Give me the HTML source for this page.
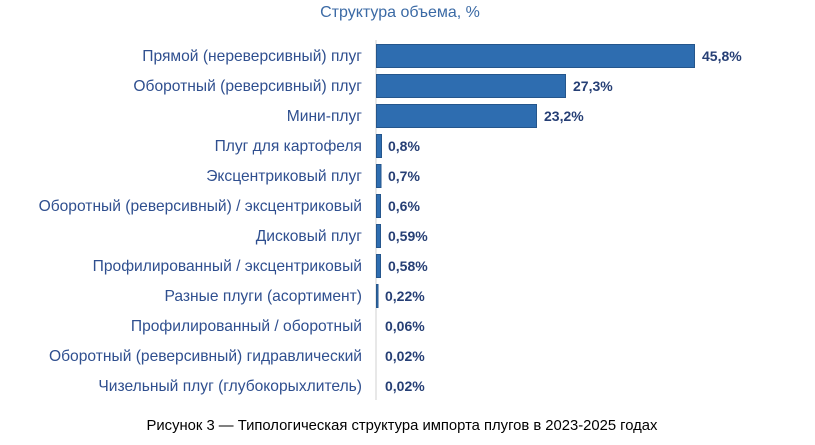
<!DOCTYPE html>
<html><head><meta charset="utf-8"><style>
body{margin:0;width:815px;height:440px;background:#fff;overflow:hidden}
</style></head><body>
<svg width="815" height="440" xmlns="http://www.w3.org/2000/svg" font-family="Liberation Sans, sans-serif">
<text x="400" y="17" text-anchor="middle" font-size="16" fill="#3b6aa5">Структура объема, %</text>
<line x1="376" y1="40" x2="376" y2="400" stroke="#d0d0d0" stroke-width="1"/>
<g font-size="15.6" fill="#2f4f8f" text-anchor="end">
<text x="362" y="61">Прямой (нереверсивный) плуг</text>
<text x="362" y="91">Оборотный (реверсивный) плуг</text>
<text x="362" y="121">Мини-плуг</text>
<text x="362" y="151">Плуг для картофеля</text>
<text x="362" y="181">Эксцентриковый плуг</text>
<text x="362" y="211">Оборотный (реверсивный) / эксцентриковый</text>
<text x="362" y="241">Дисковый плуг</text>
<text x="362" y="271">Профилированный / эксцентриковый</text>
<text x="362" y="301">Разные плуги (асортимент)</text>
<text x="362" y="331">Профилированный / оборотный</text>
<text x="362" y="361">Оборотный (реверсивный) гидравлический</text>
<text x="362" y="391">Чизельный плуг (глубокорыхлитель)</text>
</g>
<g fill="#2e6db0" stroke="#25568c" stroke-width="1">
<rect x="376.5" y="44.5" width="318" height="23"/>
<rect x="376.5" y="74.5" width="189" height="23"/>
<rect x="376.5" y="104.5" width="160" height="23"/>
<rect x="376.5" y="134.5" width="5" height="23"/>
<rect x="376.5" y="164.5" width="4.5" height="23"/>
<rect x="376.5" y="194.5" width="4" height="23"/>
<rect x="376.5" y="224.5" width="4" height="23"/>
<rect x="376.5" y="254.5" width="4" height="23"/>
<rect x="376.5" y="284.5" width="1.5" height="23"/>
</g>
<g font-size="14" font-weight="bold" fill="#263f75">
<text x="702" y="61">45,8%</text>
<text x="573" y="91">27,3%</text>
<text x="544" y="121">23,2%</text>
<text x="388" y="151">0,8%</text>
<text x="388" y="181">0,7%</text>
<text x="388" y="211">0,6%</text>
<text x="388" y="241">0,59%</text>
<text x="388" y="271">0,58%</text>
<text x="385" y="301">0,22%</text>
<text x="385" y="331">0,06%</text>
<text x="385" y="361">0,02%</text>
<text x="385" y="391">0,02%</text>
</g>
<text x="402" y="430" text-anchor="middle" font-size="14.8" fill="#000">Рисунок 3 — Типологическая структура импорта плугов в 2023-2025 годах</text>
</svg>
</body></html>
